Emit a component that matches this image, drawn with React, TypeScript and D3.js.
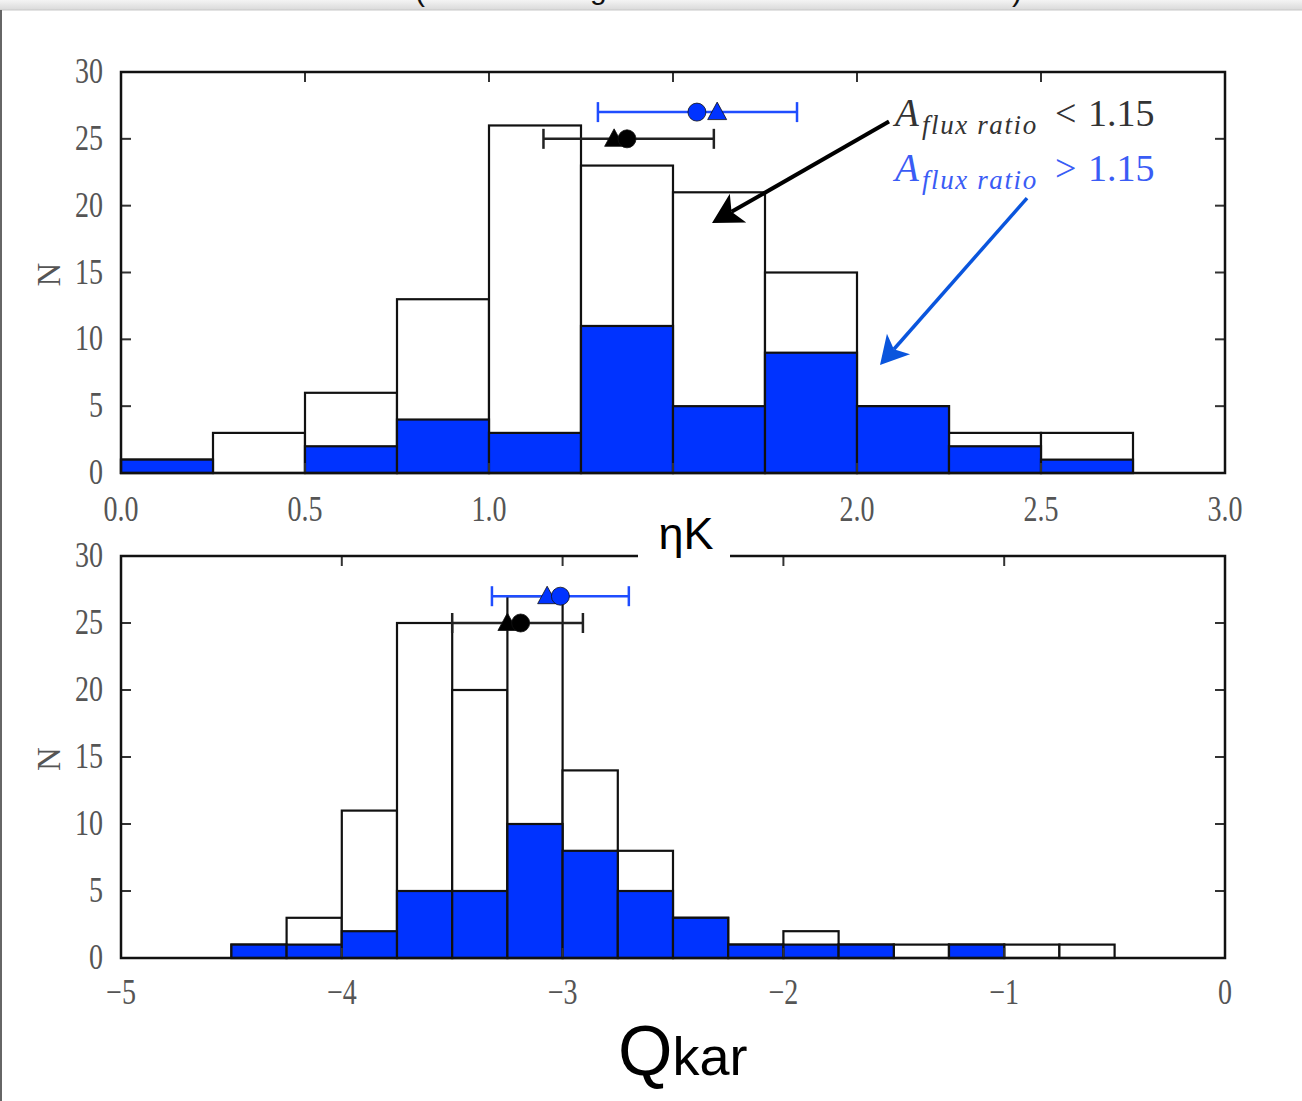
import React from "react";
import * as d3 from "d3";

// ---------- data ----------
const etaBinStarts = [0, 0.25, 0.5, 0.75, 1.0, 1.25, 1.5, 1.75, 2.0, 2.25, 2.5];
const etaTotal = [1, 3, 6, 13, 26, 23, 21, 15, 5, 3, 3];
const etaHigh = [1, 0, 2, 4, 3, 11, 5, 9, 5, 2, 1];
const etaTicks = [0, 0.5, 1.0, 1.5, 2.0, 2.5, 3.0];

const qBinStarts = [-4.5, -4.25, -4.0, -3.75, -3.5, -3.25, -3.0, -2.75, -2.5, -2.25, -2.0, -1.75, -1.5, -1.25, -1.0, -0.75];
const qTotal = [1, 3, 11, 25, 20, 27, 14, 8, 3, 1, 2, 1, 1, 1, 1, 1];
const qHigh = [1, 1, 2, 5, 5, 10, 8, 5, 3, 1, 1, 1, 0, 1, 0, 0];
const qTicks = [-5, -4, -3, -2, -1, 0];

const yTicks = [0, 5, 10, 15, 20, 25, 30];
const binWidth = 0.25;

const etaLowSummary = { lo: 1.148, hi: 1.611, circle: 1.375, tri: 1.34, level: 25 };
const etaHighSummary = { lo: 1.296, hi: 1.837, circle: 1.565, tri: 1.62, level: 27 };
const qLowSummary = { lo: -3.5, hi: -2.908, circle: -3.19, tri: -3.25, level: 25 };
const qHighSummary = { lo: -3.32, hi: -2.7, circle: -3.01, tri: -3.07, level: 27 };

const BLUE = "#0033ff";
const EBLUE = "#1f4dff";
const SERIF = "Liberation Serif, DejaVu Serif, serif";
const SANS = "Liberation Sans, Arial, sans-serif";

function fmtEta(v: number) {
  return v.toFixed(1);
}
function fmtQ(v: number) {
  return v < 0 ? "\u2212" + Math.abs(v) : String(v);
}

type Summary = { lo: number; hi: number; circle: number; tri: number; level: number };

function ErrBar({ s, x, y, color, fill }: { s: Summary; x: any; y: any; color: string; fill: string }) {
  const yy = y(s.level);
  const cap = 10;
  const tx = x(s.tri);
  const r = 9;
  const t = 10;
  return (
    <g>
      <line x1={x(s.lo)} x2={x(s.hi)} y1={yy} y2={yy} stroke={color} strokeWidth={2.5} />
      <line x1={x(s.lo)} x2={x(s.lo)} y1={yy - cap} y2={yy + cap} stroke={color} strokeWidth={2.5} />
      <line x1={x(s.hi)} x2={x(s.hi)} y1={yy - cap} y2={yy + cap} stroke={color} strokeWidth={2.5} />
      <path
        d={`M${tx},${yy - t} L${tx + t * 0.95},${yy + t * 0.75} L${tx - t * 0.95},${yy + t * 0.75} Z`}
        fill={fill}
        stroke="#111"
        strokeWidth={0.8}
      />
      <circle cx={x(s.circle)} cy={yy} r={r} fill={fill} stroke="#111" strokeWidth={0.8} />
    </g>
  );
}

function TickText({ x, y, anchor, children }: { x: number; y: number; anchor: string; children: any }) {
  return (
    <text
      transform={`translate(${x},${y}) scale(0.8,1)`}
      textAnchor={anchor}
      fontFamily={SERIF}
      fontSize={35}
      fill="#555"
    >
      {children}
    </text>
  );
}

function Panel({
  x,
  y,
  binStarts,
  total,
  high,
  ticks,
  fmt,
  labelY,
  hideTick,
}: {
  x: any;
  y: any;
  binStarts: number[];
  total: number[];
  high: number[];
  ticks: number[];
  fmt: (v: number) => string;
  labelY: number;
  hideTick?: number;
}) {
  const [x0, x1] = x.range();
  const [y0, y1] = y.range();
  const tl = 10;
  return (
    <g>
      {binStarts.map((b, i) => (
        <rect
          key={"t" + i}
          x={x(b)}
          y={y(total[i])}
          width={x(b + binWidth) - x(b)}
          height={y(0) - y(total[i])}
          fill="#fff"
          stroke="#111"
          strokeWidth={2.2}
        />
      ))}
      {binStarts.map((b, i) =>
        high[i] > 0 ? (
          <rect
            key={"h" + i}
            x={x(b)}
            y={y(high[i])}
            width={x(b + binWidth) - x(b)}
            height={y(0) - y(high[i])}
            fill={BLUE}
            stroke="#111"
            strokeWidth={2.2}
          />
        ) : null
      )}
      {yTicks.map((t) => (
        <g key={"yt" + t}>
          <line x1={x0} x2={x0 + tl} y1={y(t)} y2={y(t)} stroke="#333" strokeWidth={2} />
          <line x1={x1} x2={x1 - tl} y1={y(t)} y2={y(t)} stroke="#333" strokeWidth={2} />
          <TickText x={x0 - 18} y={y(t) + 11} anchor="end">
            {t}
          </TickText>
        </g>
      ))}
      {ticks.map((t) => (
        <g key={"xt" + t}>
          <line x1={x(t)} x2={x(t)} y1={y0} y2={y0 - tl} stroke="#333" strokeWidth={2} />
          <line x1={x(t)} x2={x(t)} y1={y1} y2={y1 + tl} stroke="#333" strokeWidth={2} />
          {t !== hideTick ? (
            <TickText x={x(t)} y={labelY} anchor="middle">
              {fmt(t)}
            </TickText>
          ) : null}
        </g>
      ))}
      <rect x={x0} y={y1} width={x1 - x0} height={y0 - y1} fill="none" stroke="#111" strokeWidth={2.5} />
      <text
        transform={`translate(${x0 - 61},${(y0 + y1) / 2 + 2}) rotate(-90)`}
        textAnchor="middle"
        fontFamily={SERIF}
        fontSize={33}
        fill="#555"
      >
        N
      </text>
    </g>
  );
}

function Arrow({ x1, y1, x2, y2, color, w, head }: { x1: number; y1: number; x2: number; y2: number; color: string; w: number; head: number }) {
  const ang = Math.atan2(y2 - y1, x2 - x1);
  const hl = head;
  const hw = head * 0.55;
  const bx = x2 - hl * Math.cos(ang);
  const by = y2 - hl * Math.sin(ang);
  const px = -Math.sin(ang);
  const py = Math.cos(ang);
  const notch = 0.75;
  const nx = x2 - hl * notch * Math.cos(ang);
  const ny = y2 - hl * notch * Math.sin(ang);
  return (
    <g>
      <line x1={x1} y1={y1} x2={nx} y2={ny} stroke={color} strokeWidth={w} />
      <path
        d={`M${x2},${y2} L${bx + px * hw},${by + py * hw} L${nx},${ny} L${bx - px * hw},${by - py * hw} Z`}
        fill={color}
      />
    </g>
  );
}

function Legend({ x, y, rel, color }: { x: number; y: number; rel: string; color: string }) {
  return (
    <g>
      <text x={x} y={y} fontFamily={SERIF} fontSize={39} fontStyle="italic" fill={color}>
        A
      </text>
      <text
        x={x + 27}
        y={y + 8}
        fontFamily={SERIF}
        fontSize={27}
        fontStyle="italic"
        letterSpacing={1.6}
        fill={color}
      >
        flux ratio
      </text>
      <text x={x + 160} y={y} fontFamily={SERIF} fontSize={38} fill={color}>
        {rel}
      </text>
      <text x={x + 193} y={y} fontFamily={SERIF} fontSize={38} fill={color}>
        1.15
      </text>
    </g>
  );
}

export default function App() {
  const xTop = d3.scaleLinear().domain([0, 3]).range([121, 1225]);
  const yTop = d3.scaleLinear().domain([0, 30]).range([473, 72]);
  const xBot = d3.scaleLinear().domain([-5, 0]).range([121, 1225]);
  const yBot = d3.scaleLinear().domain([0, 30]).range([958, 556]);

  return (
    <svg width={1302} height={1101} style={{ position: "absolute", left: 0, top: 0, background: "#fff" }}>
      <defs>
        <linearGradient id="hdr" x1="0" y1="0" x2="0" y2="1">
          <stop offset="0" stopColor="#f4f4f4" />
          <stop offset="1" stopColor="#d9d9d9" />
        </linearGradient>
        <clipPath id="hdrclip">
          <rect x={0} y={0} width={1302} height={10} />
        </clipPath>
      </defs>
      <rect x={0} y={0} width={1302} height={1101} fill="#fff" />
      <rect x={0} y={0} width={1302} height={10} fill="url(#hdr)" />
      <g clipPath="url(#hdrclip)">
        <text x={415} y={1} fontFamily={SANS} fontSize={30} fill="#111">(</text>
        <text x={590} y={-1} fontFamily={SANS} fontSize={30} fill="#111">g</text>
        <text x={1012} y={1} fontFamily={SANS} fontSize={30} fill="#111">)</text>
      </g>
      <line x1={0} x2={1302} y1={10} y2={10} stroke="#c8c8c8" strokeWidth={1} />
      <line x1={1} x2={1} y1={10} y2={1101} stroke="#666" strokeWidth={2} />

      {/* top panel */}
      <Panel
        x={xTop}
        y={yTop}
        binStarts={etaBinStarts}
        total={etaTotal}
        high={etaHigh}
        ticks={etaTicks}
        fmt={fmtEta}
        labelY={521}
        hideTick={1.5}
      />
      <ErrBar s={etaLowSummary} x={xTop} y={yTop} color="#222" fill="#000" />
      <ErrBar s={etaHighSummary} x={xTop} y={yTop} color={EBLUE} fill={BLUE} />

      {/* bottom panel */}
      <Panel
        x={xBot}
        y={yBot}
        binStarts={qBinStarts}
        total={qTotal}
        high={qHigh}
        ticks={qTicks}
        fmt={fmtQ}
        labelY={1004}
      />
      <ErrBar s={qLowSummary} x={xBot} y={yBot} color="#222" fill="#000" />
      <ErrBar s={qHighSummary} x={xBot} y={yBot} color={EBLUE} fill={BLUE} />

      {/* annotations */}
      <Arrow x1={xTop(2.087)} y1={yTop(26.3)} x2={xTop(1.606)} y2={yTop(18.7)} color="#000" w={4} head={30} />
      <Arrow x1={xTop(2.462)} y1={yTop(20.57)} x2={xTop(2.0625)} y2={yTop(8.08)} color="#0a55dd" w={3.5} head={28} />
      <Legend x={895} y={126} rel="<" color="#333" />
      <Legend x={895} y={181} rel=">" color="#3a5cf5" />

      {/* axis titles */}
      <rect x={638} y={490} width={92} height={70} fill="#fff" />
      <text x={686} y={549} textAnchor="middle" fontFamily={SANS} fontSize={45} fill="#000">
        ηK
      </text>
      <text x={618} y={1075} fontFamily={SANS} fill="#000">
        <tspan fontSize={70}>Q</tspan>
        <tspan fontSize={54}>kar</tspan>
      </text>
    </svg>
  );
}
